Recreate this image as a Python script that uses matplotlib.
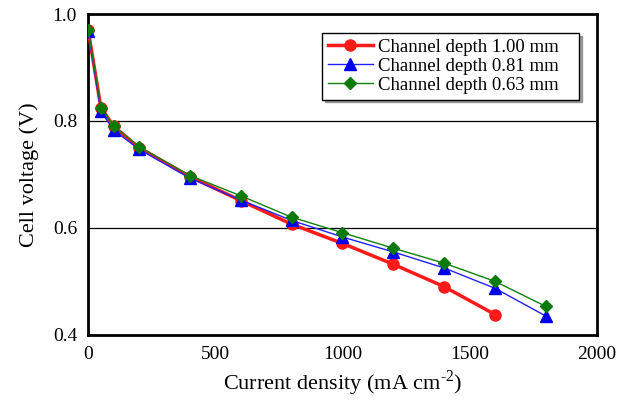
import matplotlib
matplotlib.use("Agg")
import matplotlib.pyplot as plt

plt.rcParams['font.family'] = ['Liberation Serif', 'DejaVu Serif']
plt.rcParams['mathtext.fontset'] = 'custom'
plt.rcParams['mathtext.rm'] = 'Liberation Serif'

x_red = [0, 50, 100, 200, 400, 600, 800, 1000, 1200, 1400, 1600]
y_red = [0.970, 0.825, 0.790, 0.750, 0.696, 0.651, 0.607, 0.571, 0.532, 0.490, 0.438]
x_blue = [0, 50, 100, 200, 400, 600, 800, 1000, 1200, 1400, 1600, 1800]
y_blue = [0.968, 0.818, 0.783, 0.747, 0.693, 0.652, 0.614, 0.583, 0.555, 0.525, 0.487, 0.435]
x_green = [0, 50, 100, 200, 400, 600, 800, 1000, 1200, 1400, 1600, 1800]
y_green = [0.970, 0.825, 0.791, 0.752, 0.698, 0.660, 0.620, 0.591, 0.562, 0.534, 0.500, 0.453]
labels = ['Channel depth 1.00 mm', 'Channel depth 0.81 mm', 'Channel depth 0.63 mm']
xticks = [0, 500, 1000, 1500, 2000]
yticks = [0.4, 0.6, 0.8, 1.0]

fig = plt.figure(figsize=(6.21, 4.01), dpi=100)
ax = fig.add_axes([0.142, 0.165, 0.819, 0.800])

ax.axhline(0.6, color='black', lw=0.9, zorder=0)
ax.axhline(0.8, color='black', lw=0.9, zorder=0)

l1, = ax.plot(x_red, y_red, color='#ff1a1a', lw=2.5, marker='o', ms=8, zorder=3)
l2, = ax.plot(x_blue, y_blue, color='#2020ff', lw=1.0, marker='^', ms=8, mfc='#0000ee', mec='#0000ee', zorder=4)
l3, = ax.plot(x_green, y_green, color='#108010', lw=1.0, marker='D', ms=6, mfc='#0a7a0a', mec='#0a7a0a', zorder=5)

ax.set_xlim(0, 2000)
ax.set_ylim(0.4, 1.0)
ax.set_xticks(xticks)
ax.set_yticks(yticks)
ax.set_yticklabels([f'{v:.1f}' for v in yticks])
ax.tick_params(length=0, labelsize=14, pad=8)
for s in ax.spines.values():
    s.set_linewidth(2)

ax.set_xlabel(r'Current density (mA cm$^{\text{-2}}$)', fontsize=16, labelpad=4)
ax.set_ylabel('Cell voltage (V)', fontsize=16, labelpad=10)

leg = ax.legend([l1, l2, l3], [s + '   ' for s in labels],
                loc='upper left', bbox_to_anchor=(0.46, 0.94), fontsize=13.5,
                frameon=True, fancybox=False, shadow=True, handlelength=2.4,
                borderpad=0.3, labelspacing=0.1, handletextpad=0.3, borderaxespad=0)
leg.get_frame().set_edgecolor('black')
leg.get_frame().set_linewidth(1.0)

fig.savefig('out.png', dpi=100)
